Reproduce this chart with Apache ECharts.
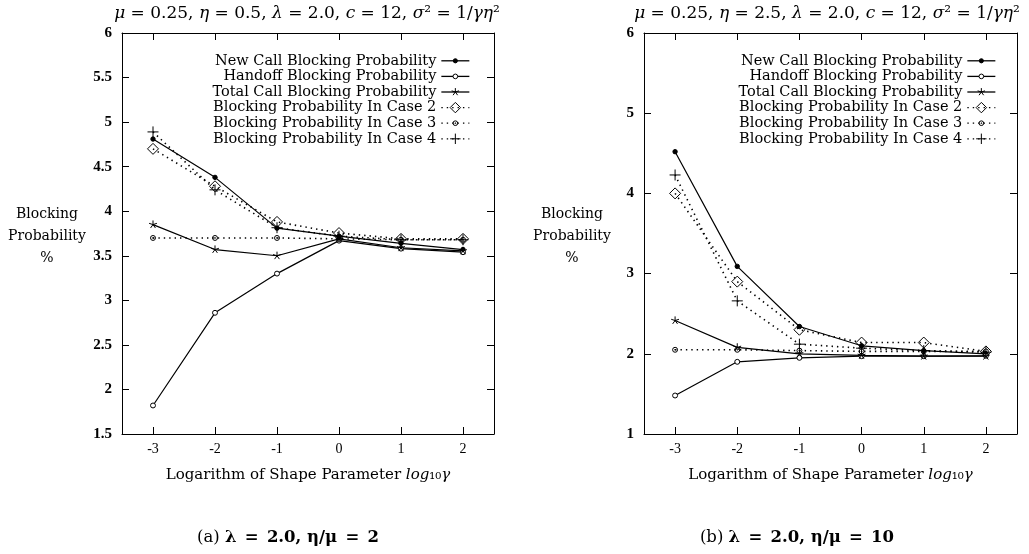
<!DOCTYPE html>
<html>
<head>
<meta charset="utf-8">
<script src="https://cdn.jsdelivr.net/npm/echarts@6/dist/echarts.min.js"></script>
<style>
  html, body { margin: 0; padding: 0; background: #fff; }
  #chart { width: 1029px; height: 554px; }
</style>
</head>
<body>
<div id="chart"></div>
<script>
// log10 of the shape parameter gamma
const logGamma = [-3, -2, -1, 0, 1, 2];
const xTickValues = [-3, -2, -1, 0, 1, 2];

const seriesNames = [
  'New Call Blocking Probability',
  'Handoff Blocking Probability',
  'Total Call Blocking Probability',
  'Blocking Probability In Case 2',
  'Blocking Probability In Case 3',
  'Blocking Probability In Case 4'
];

// panel (a): eta = 0.5  (blocking probability, %)
const newCallA = [4.81, 4.38, 3.81, 3.72, 3.64, 3.57];
const handoffA = [1.82, 2.86, 3.30, 3.67, 3.58, 3.54];
const totalA   = [3.85, 3.57, 3.50, 3.69, 3.59, 3.555];
const case2A   = [4.70, 4.28, 3.88, 3.755, 3.69, 3.69];
const case3A   = [3.70, 3.70, 3.70, 3.69, 3.68, 3.68];
const case4A   = [4.89, 4.24, 3.815, 3.72, 3.68, 3.68];

// panel (b): eta = 2.5  (blocking probability, %)
const newCallB = [4.52, 3.09, 2.34, 2.10, 2.04, 2.00];
const handoffB = [1.48, 1.90, 1.95, 1.97, 1.97, 1.975];
const totalB   = [2.415, 2.08, 2.00, 1.98, 1.97, 1.97];
const case2B   = [4.00, 2.90, 2.30, 2.14, 2.14, 2.03];
const case3B   = [2.05, 2.05, 2.04, 2.03, 2.03, 2.03];
const case4B   = [4.23, 2.66, 2.12, 2.07, 2.04, 2.02];

const SP = '\u2002';
const panelTitles = [
  '{i|μ} = 0.25, {i|η} = 0.5, {i|λ} = 2.0, {i|c} = 12, {i|σ}² = 1/{i|γη}²',
  '{i|μ} = 0.25, {i|η} = 2.5, {i|λ} = 2.0, {i|c} = 12, {i|σ}² = 1/{i|γη}²'
];
const captions = [
  `(a) {b|λ${SP}=${SP}2.0, η/μ${SP}=${SP}2}`,
  `(b) {b|λ${SP}=${SP}2.0, η/μ${SP}=${SP}10}`
];
const xAxisTitle = 'Logarithm of Shape Parameter {i|log}₁₀{i|γ}';
const yAxisTitle = 'Blocking\nProbability\n%';

const SERIF = '"DejaVu Serif", "Liberation Serif", serif';
const NUM = '"Liberation Serif", "DejaVu Serif", serif';
const INK = '#000';

// marker outlines in a 20x20 box (corner moves keep the box size fixed)
const BOX = 'M0,0M20,20';
const dotPath = `path://${BOX}M6,10A4,4 0 1,1 14,10A4,4 0 1,1 6,10Z`;
const ringPath = `path://${BOX}M5.5,10A4.5,4.5 0 1,1 14.5,10A4.5,4.5 0 1,1 5.5,10Z`;
const starPath = `path://${BOX}M10,10L10,2.5M10,10L2.9,7.7M10,10L17.1,7.7M10,10L5.6,16.1M10,10L14.4,16.1`;
const diamondPath = 'path://M10,0L20,10L10,20L0,10Z';
const dotRingPath = `path://${BOX}M5.5,10A4.5,4.5 0 1,1 14.5,10A4.5,4.5 0 1,1 5.5,10ZM9.2,10A0.8,0.8 0 1,1 10.8,10A0.8,0.8 0 1,1 9.2,10Z`;
const plusPath = 'path://M0,10L20,10M10,0L10,20';

const styles = [
  { symbol: dotPath, dashed: false, fill: INK },
  { symbol: ringPath, dashed: false, fill: '#fff' },
  { symbol: starPath, dashed: false, fill: 'transparent' },
  { symbol: diamondPath, dashed: true, fill: 'transparent' },
  { symbol: dotRingPath, dashed: true, fill: 'transparent' },
  { symbol: plusPath, dashed: true, fill: 'transparent' }
];

function pairs(values) {
  return logGamma.map((g, i) => [g, values[i]]);
}

function makeSeries(panel, valuesList) {
  return valuesList.map((vals, k) => {
    const st = styles[k];
    return {
      type: 'line',
      name: seriesNames[k],
      xAxisIndex: panel * 2,
      yAxisIndex: panel * 2,
      data: pairs(vals),
      symbol: st.symbol,
      symbolSize: 11,
      showAllSymbol: true,
      animation: false,
      silent: true,
      z: 4 + k,
      lineStyle: {
        color: INK,
        width: st.dashed ? 1.6 : 1.2,
        type: st.dashed ? [1.4, 4] : 'solid'
      },
      itemStyle: {
        color: st.fill,
        borderColor: INK,
        borderWidth: 1
      }
    };
  });
}

function axisPair(gridIndex, isX, range) {
  const common = {
    gridIndex: gridIndex,
    type: 'value',
    min: range.min,
    max: range.max,
    splitLine: { show: false },
    axisLine: { show: true, onZero: false, lineStyle: { color: INK, width: 1 } },
    axisTick: { show: true, inside: true, length: 7, lineStyle: { color: INK, width: 1 } }
  };
  if (isX) {
    const ticks = { customValues: xTickValues };
    const bottom = Object.assign({}, common, {
      position: 'bottom',
      axisTick: Object.assign({}, common.axisTick, ticks),
      axisLabel: {
        customValues: xTickValues,
        color: INK, fontFamily: NUM, fontSize: 14, margin: 8
      },
      name: xAxisTitle,
      nameLocation: 'middle',
      nameGap: 34,
      nameTextStyle: {
        color: INK, fontFamily: SERIF, fontSize: 15,
        rich: { i: { fontStyle: 'italic', fontFamily: SERIF, fontSize: 15, color: INK } }
      }
    });
    const top = Object.assign({}, common, {
      position: 'top',
      axisTick: Object.assign({}, common.axisTick, ticks),
      axisLabel: { show: false }
    });
    return [bottom, top];
  }
  const left = Object.assign({}, common, {
    position: 'left',
    interval: range.step,
    axisLabel: {
      color: INK, fontFamily: NUM, fontSize: 15, fontWeight: 'bold', margin: 10
    }
  });
  const right = Object.assign({}, common, {
    position: 'right',
    interval: range.step,
    axisLabel: { show: false }
  });
  return [left, right];
}

const yRangeA = { min: 1.5, max: 6, step: 0.5 };
const yRangeB = { min: 1, max: 6, step: 1 };
const xRange = { min: -3.5, max: 2.5 };

const grids = [
  { left: 122, right: 535, top: 33, bottom: 120 },
  { left: 644, right: 12, top: 33, bottom: 120 }
];

function legendFor(rightPx) {
  return {
    show: true,
    orient: 'vertical',
    align: 'right',
    right: rightPx,
    top: 53,
    padding: 0,
    itemGap: 0,
    itemWidth: 28,
    itemHeight: 13,
    selectedMode: false,
    data: seriesNames,
    itemStyle: { borderWidth: 1 },
    lineStyle: { width: 1.3 },
    textStyle: { color: INK, fontFamily: SERIF, fontSize: 14.5, lineHeight: 15.6 }
  };
}

const titleRich = { i: { fontStyle: 'italic', fontFamily: SERIF, fontSize: 17, fill: INK } };
const capRich = { b: { fontWeight: 'bold', fontFamily: SERIF, fontSize: 16.5, fill: INK } };

function textEl(x, y, text, size, rich, extra) {
  return {
    type: 'text',
    x: x, y: y, silent: true,
    style: Object.assign({
      text: text,
      fontFamily: SERIF,
      fontSize: size,
      fill: INK,
      align: 'center',
      verticalAlign: 'middle',
      rich: rich || {}
    }, extra || {})
  };
}

const chart = echarts.init(document.getElementById('chart'), null, { renderer: 'canvas' });
chart.setOption({
  backgroundColor: '#fff',
  animation: false,
  grid: grids,
  xAxis: [].concat(axisPair(0, true, xRange), axisPair(1, true, xRange)),
  yAxis: [].concat(axisPair(0, false, yRangeA), axisPair(1, false, yRangeB)),
  legend: [legendFor(559), legendFor(33)],
  series: [].concat(
    makeSeries(0, [newCallA, handoffA, totalA, case2A, case3A, case4A]),
    makeSeries(1, [newCallB, handoffB, totalB, case2B, case3B, case4B])
  ),
  graphic: [
    textEl(307, 14, panelTitles[0], 17, titleRich),
    textEl(827, 14, panelTitles[1], 17, titleRich),
    textEl(47, 236, yAxisTitle, 14, null, { lineHeight: 22 }),
    textEl(572, 236, yAxisTitle, 14, null, { lineHeight: 22 }),
    textEl(288, 538, captions[0], 16.5, capRich),
    textEl(797, 538, captions[1], 16.5, capRich)
  ]
});
</script>
</body>
</html>
